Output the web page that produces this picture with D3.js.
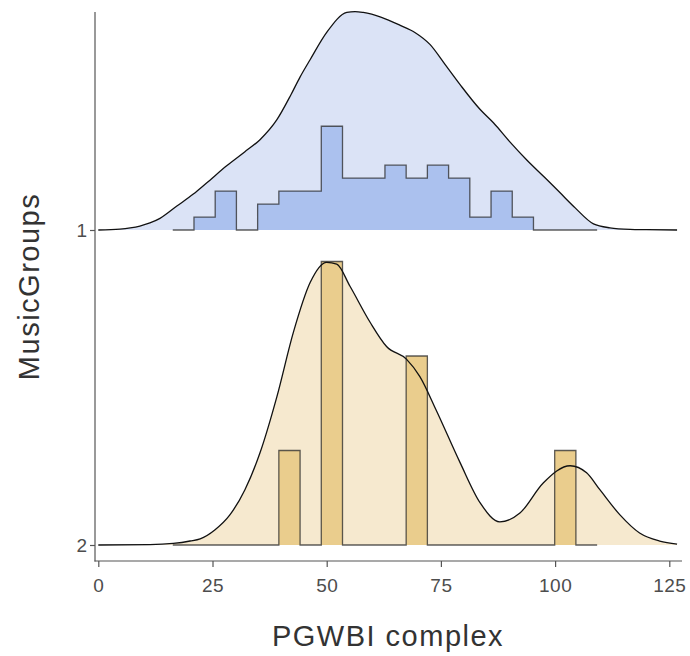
<!DOCTYPE html>
<html>
<head>
<meta charset="utf-8">
<script src="https://cdn.jsdelivr.net/npm/d3@7"></script>
<style>
  html, body { margin: 0; padding: 0; background: #fff; }
  svg { display: block; font-family: "Liberation Sans", Arial, Helvetica, sans-serif; }
</style>
</head>
<body>
<svg id="chart" width="690" height="656"></svg>
<script>
// ---------------- data ----------------
const groups = ["1", "2"];
const xTicks = [0, 25, 50, 75, 100, 125];
const xTitle = "PGWBI complex";
const yTitle = "MusicGroups";

// histogram bins (shared)
const binStart = 16.3;
const binWidth = 4.645;
const hist1 = [0, 1, 3, 0, 2, 3, 3, 8, 4, 4, 5, 4, 5, 4, 1, 3, 1, 0, 0, 0];
const hist2 = [0, 0, 0, 0, 0, 1, 0, 3, 0, 0, 0, 2, 0, 0, 0, 0, 0, 0, 1, 0];

// density estimates
const dens1X = [0, 4.75, 7, 9.1, 11.3, 13.5, 17.2, 20.8, 23.7, 28.1, 32.1, 35.4, 39.1, 42.2, 44.1, 46.4, 50, 54.4, 56.2, 58, 62, 66.1, 69.3, 72.6, 75.9, 79.2, 83.6, 86.5, 90.1, 93.8, 97.8, 101.1, 104.4, 108.4, 112, 116.4, 120, 126.7];
const dens1Y = [0, 0.0003, 0.0007, 0.0013, 0.0023, 0.0038, 0.0078, 0.0117, 0.0153, 0.0209, 0.0255, 0.0294, 0.0359, 0.0441, 0.0496, 0.0555, 0.0643, 0.0708, 0.0711, 0.0708, 0.0692, 0.0666, 0.0643, 0.0604, 0.0539, 0.0473, 0.0392, 0.0349, 0.0287, 0.0228, 0.0170, 0.0121, 0.0072, 0.0020, 0.0007, 0.0002, 0.0001, 0];
const dens2X = [0, 11.3, 16.4, 20.1, 22.3, 25.5, 28.8, 32.1, 35.4, 39.1, 42.7, 46.4, 50, 52.2, 55.1, 59.5, 63.1, 67.5, 70.4, 73.9, 79.2, 83.6, 87.9, 92.3, 97.4, 103.3, 106.9, 109.8, 114.2, 118.5, 122.9, 126.7];
const dens2Y = [0, 0.0001, 0.0005, 0.0013, 0.0020, 0.0049, 0.0098, 0.0180, 0.0300, 0.0483, 0.0692, 0.0855, 0.0920, 0.0914, 0.0842, 0.0725, 0.0646, 0.0604, 0.0548, 0.0441, 0.0268, 0.0137, 0.0075, 0.0104, 0.0202, 0.0258, 0.0235, 0.0180, 0.0098, 0.0039, 0.0013, 0.0003];

const densFill = ["#dbe3f6", "#f6e9cf"];
const histFill = ["#abc1ee", "#eacd8d"];

// ---------------- layout ----------------
const svg = d3.select("#chart");
const panel = { left: 95, right: 682, top: 12, bottom: 561 };

const x = d3.scaleLinear().domain([0, 125]).range([98.3, 669.3]);
const y = d3.scalePoint().domain(groups).range([230, 545]);
const step = y("2") - y("1");

function histDensity(counts) {
  const n = d3.sum(counts);
  return counts.map((c, i) => ({ x0: binStart + i * binWidth, x1: binStart + (i + 1) * binWidth, d: c / (n * binWidth) }));
}
const series = [
  { g: "1", dens: dens1X.map((v, i) => ({ x: v, d: dens1Y[i] })), hist: histDensity(hist1) },
  { g: "2", dens: dens2X.map((v, i) => ({ x: v, d: dens2Y[i] })), hist: histDensity(hist2) }
];
const maxD = d3.max(series, s => Math.max(d3.max(s.dens, p => p.d), d3.max(s.hist, b => b.d)));
const h = d3.scaleLinear().domain([0, maxD]).range([0, 0.9 * step]);

// ---------------- ridges ----------------
series.forEach((s, gi) => {
  const base = y(s.g);
  const g = svg.append("g");
  const area = d3.area().curve(d3.curveMonotoneX)
    .x(p => x(p.x)).y0(base).y1(p => base - h(p.d));
  const line = d3.line().curve(d3.curveMonotoneX)
    .x(p => x(p.x)).y(p => base - h(p.d));

  g.append("path").attr("d", area(s.dens)).attr("fill", densFill[gi]).attr("stroke", "none");

  // stepped histogram
  const pts = [[x(s.hist[0].x0), base]];
  s.hist.forEach(b => {
    pts.push([x(b.x0), base - h(b.d)]);
    pts.push([x(b.x1), base - h(b.d)]);
  });
  pts.push([x(s.hist[s.hist.length - 1].x1), base]);
  g.append("path").attr("d", d3.area().x(p => p[0]).y0(base).y1(p => p[1])(pts))
    .attr("fill", histFill[gi]).attr("stroke", "none");
  const stepPts = [];
  s.hist.forEach(b => {
    stepPts.push([x(b.x0), base - h(b.d)]);
    stepPts.push([x(b.x1), base - h(b.d)]);
  });
  g.append("path").attr("d", d3.line()(stepPts))
    .attr("fill", "none").attr("stroke", "rgba(40,40,40,0.75)").attr("stroke-width", 1.3);

  g.append("path").attr("d", line(s.dens)).attr("fill", "none")
    .attr("stroke", "#111").attr("stroke-width", 1.3);
});

// ---------------- axes ----------------
const axisColor = "#555";
svg.append("line").attr("x1", panel.left).attr("x2", panel.left)
  .attr("y1", panel.top).attr("y2", panel.bottom + 0.5)
  .attr("stroke", axisColor).attr("stroke-width", 1.2);
svg.append("line").attr("x1", panel.left - 0.5).attr("x2", panel.right)
  .attr("y1", panel.bottom).attr("y2", panel.bottom)
  .attr("stroke", axisColor).attr("stroke-width", 1.2);

const xAxis = svg.append("g").attr("transform", `translate(0,${panel.bottom})`)
  .call(d3.axisBottom(x).tickValues(xTicks).tickSize(6).tickPadding(12));
xAxis.select(".domain").remove();
xAxis.selectAll(".tick line").attr("stroke", axisColor).attr("stroke-width", 1.2);
xAxis.selectAll(".tick text").attr("fill", "#4d4d4d").style("font-size", "19px")
  .style("letter-spacing", "0.5px")
  .style("font-family", "Liberation Sans, Arial, sans-serif");

const yAxis = svg.append("g").attr("transform", `translate(${panel.left},0)`)
  .call(d3.axisLeft(y).tickSize(5).tickPadding(3));
yAxis.select(".domain").remove();
yAxis.selectAll(".tick line").attr("stroke", axisColor).attr("stroke-width", 1.2);
yAxis.selectAll(".tick text").attr("fill", "#4d4d4d").style("font-size", "19px")
  .style("font-family", "Liberation Sans, Arial, sans-serif");

svg.append("text").attr("x", 388).attr("y", 646)
  .attr("text-anchor", "middle").attr("fill", "#333").style("font-size", "29px")
  .style("letter-spacing", "1.5px")
  .text(xTitle);
svg.append("text").attr("transform", `translate(39,${(panel.top + panel.bottom) / 2}) rotate(-90)`)
  .attr("text-anchor", "middle").attr("fill", "#333").style("font-size", "29px")
  .style("letter-spacing", "1.5px")
  .text(yTitle);
</script>
</body>
</html>
